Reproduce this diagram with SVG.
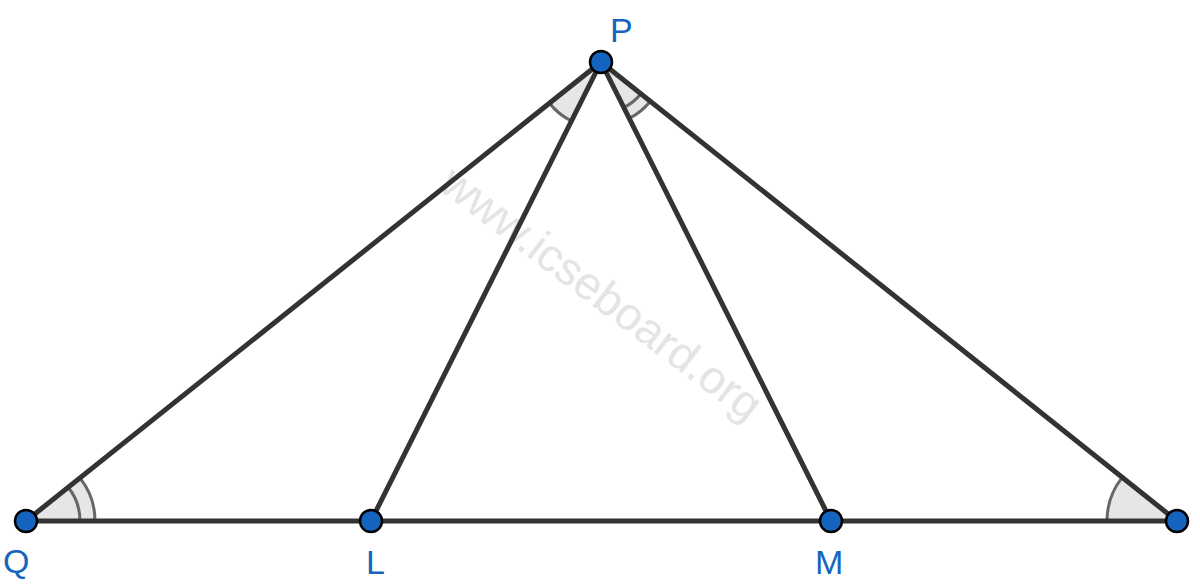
<svg xmlns="http://www.w3.org/2000/svg" width="1200" height="587" viewBox="0 0 1200 587">
<style>
.edge{stroke:#333333;stroke-width:5;stroke-linecap:round;fill:none}
.sector{fill:#e6e6e6;stroke:none}
.arc{fill:none;stroke:#666666;stroke-width:3}
.pt{fill:#1565c0;stroke:#000000;stroke-width:2.5}
.lbl{font-family:"Liberation Sans",Arial,sans-serif;font-size:34px;fill:#1565c0}
.wm{font-family:"Liberation Sans",Arial,sans-serif;font-size:46px;fill:#e4e4e4}
</style>
<rect width="1200" height="587" fill="#ffffff"/>
<g id="watermark" transform="translate(602,293) rotate(37)">
<text class="wm" x="0" y="16" text-anchor="middle">www.icseboard.org</text>
</g>
<g id="angles">
<path class="sector" d="M26,521 L95,521 A69,69 0 0 0 79.9,477.9 Z"/>
<path class="arc" d="M95,521 A69,69 0 0 0 79.9,477.9"/>
<path class="arc" d="M80,521 A54,54 0 0 0 68.2,487.3"/>
<path class="sector" d="M1177,521 L1107,521 A70,70 0 0 1 1122.2,477.4 Z"/>
<path class="arc" d="M1107,521 A70,70 0 0 1 1122.2,477.4"/>
<path class="sector" d="M601,62 L549.5,103.2 A66,66 0 0 0 571.4,121 Z"/>
<path class="arc" d="M549.5,103.2 A66,66 0 0 0 571.4,121"/>
<path class="sector" d="M601,62 L629.3,118.3 A63,63 0 0 0 650.3,101.2 Z"/>
<path class="arc" d="M629.3,118.3 A63,63 0 0 0 650.3,101.2"/>
<path class="arc" d="M623.9,107.5 A51,51 0 0 0 640.9,93.7"/>
</g>
<g id="connectors">
<line class="edge" x1="26" y1="521" x2="1177" y2="521"/>
<line class="edge" x1="601" y1="62" x2="26" y2="521"/>
<line class="edge" x1="601" y1="62" x2="371" y2="521"/>
<line class="edge" x1="601" y1="62" x2="831" y2="521"/>
<line class="edge" x1="601" y1="62" x2="1177" y2="521"/>
</g>
<g id="node-P"><circle class="pt" cx="601" cy="62" r="11"/><text class="lbl" x="610" y="42">P</text></g>
<g id="node-Q"><circle class="pt" cx="26" cy="521" r="11"/><text class="lbl" x="3" y="573">Q</text></g>
<g id="node-L"><circle class="pt" cx="371" cy="521" r="11"/><text class="lbl" x="366" y="574">L</text></g>
<g id="node-M"><circle class="pt" cx="831" cy="521" r="11"/><text class="lbl" x="815" y="574">M</text></g>
<g id="node-R"><circle class="pt" cx="1177" cy="521" r="11"/></g>
</svg>
